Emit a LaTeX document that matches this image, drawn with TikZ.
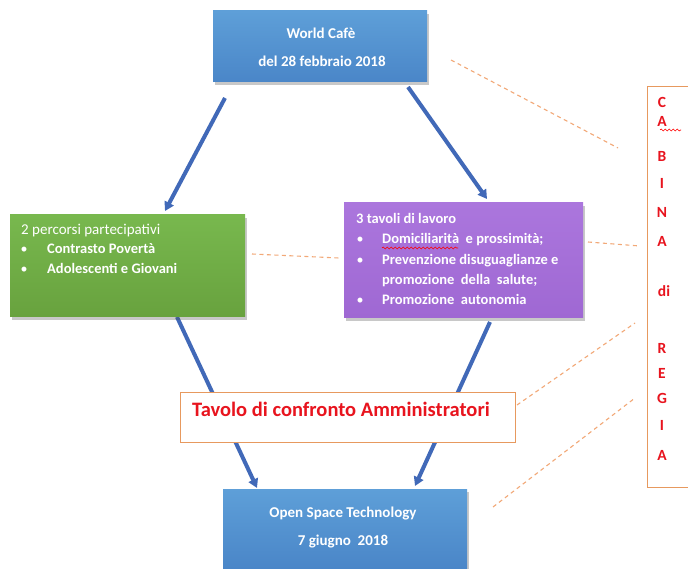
\documentclass[tikz,border=0pt]{standalone}
\usepackage{fontspec}
\setmainfont{Carlito}
\usetikzlibrary{arrows.meta,shadows,decorations.pathmorphing}
\definecolor{bluetop}{HTML}{5E9FD8}
\definecolor{bluebot}{HTML}{4A86C8}
\definecolor{greentop}{HTML}{78B84E}
\definecolor{greenbot}{HTML}{68A23E}
\definecolor{purptop}{HTML}{AB76DD}
\definecolor{purpbot}{HTML}{9F68D3}
\definecolor{arrowblue}{HTML}{4169B8}
\definecolor{dashor}{HTML}{F2A877}
\definecolor{boxor}{HTML}{E7995E}
\definecolor{redtxt}{HTML}{E8141E}
\begin{document}
\begin{tikzpicture}[x=1pt,y=-1pt,
  shbox/.style={draw=none, inner sep=0pt, drop shadow={shadow xshift=2pt, shadow yshift=-3pt, opacity=0.3, fill=black!70}},
  bluebox/.style={shbox, top color=bluetop, bottom color=bluebot},
  greenbox/.style={shbox, top color=greentop, bottom color=greenbot},
  purpbox/.style={shbox, top color=purptop, bottom color=purpbot},
  orbox/.style={draw=boxor, line width=0.8pt, fill=white, inner sep=0pt},
  ctext/.style={inner sep=0pt, anchor=base, text=white, font=\fontsize{15}{17}\selectfont\bfseries},
  ltext/.style={inner sep=0pt, anchor=base west, text=white, font=\fontsize{14.5}{17}\selectfont\bfseries},
  ttext/.style={inner sep=0pt, anchor=base west, text=white, font=\fontsize{15}{17}\selectfont},
  bul/.style={inner sep=0pt, anchor=base, text=white, font=\fontsize{14}{16}\selectfont},
  rtext/.style={inner sep=0pt, anchor=base, text=redtxt, font=\fontsize{15.5}{17}\selectfont\bfseries},
  bigarrow/.style={draw=arrowblue, line width=4pt, -{Triangle[length=9pt,width=10pt]}},
  dashline/.style={draw=dashor, line width=1.1pt, dash pattern=on 4pt off 3.5pt},
  spell/.style={draw=red, line width=0.6pt, decorate, decoration={snake, amplitude=1pt, segment length=4pt}}
]
\useasboundingbox (0,0) rectangle (688,569);
\fill[white] (0,0) rectangle (688,569);

% arrow endpoints
\coordinate (a1s) at (225,98);  \coordinate (a1e) at (165,211);
\coordinate (a2s) at (408,87);  \coordinate (a2e) at (487,199);
\coordinate (a3s) at (177,317); \coordinate (a3e) at (257,488);
\coordinate (a4s) at (490,322); \coordinate (a4e) at (415,486);

\draw[bigarrow] (a1s) -- (a1e);
\draw[bigarrow] (a2s) -- (a2e);
\draw[bigarrow] (a3s) -- (a3e);
\draw[bigarrow] (a4s) -- (a4e);

% boxes
\node[bluebox, minimum width=214pt, minimum height=71pt] (wc) at (320,46.5) {};
\node[greenbox, minimum width=235pt, minimum height=102pt] (gr) at (127.5,266) {};
\node[purpbox, minimum width=239pt, minimum height=115pt] (pu) at (463.5,260.5) {};
\node[bluebox, minimum width=244pt, minimum height=79pt] (os) at (345,528.5) {};
\node[orbox, minimum width=335pt, minimum height=50pt] (ta) at (347.5,417) {};
\node[orbox, minimum width=46pt, minimum height=401pt] (cb) at (670,287) {};

% dashed connectors
\coordinate (d1s) at (451,60);  \coordinate (d1e) at (618,148);
\coordinate (d2s) at (252,254); \coordinate (d2e) at (339,258);
\coordinate (d3s) at (588,242); \coordinate (d3e) at (640,246);
\coordinate (d4s) at (517,405); \coordinate (d4e) at (635,323);
\coordinate (d5s) at (493,507); \coordinate (d5e) at (635,398);
\draw[dashline] (d1s) -- (d1e);
\draw[dashline] (d2s) -- (d2e);
\draw[dashline] (d3s) -- (d3e);
\draw[dashline] (d4s) -- (d4e);
\draw[dashline] (d5s) -- (d5e);

% top box text
\node[ctext] (wc1) at (321,39) {World Cafè};
\node[ctext] (wc2) at (322,67) {del 28 febbraio 2018};

% bottom box text
\node[ctext] (os1) at (343,517) {Open Space Technology};
\node[ctext] (os2) at (343,545) {7 giugno\ \ 2018};

% green box text
\node[ttext] (g0) at (21,235) {2 percorsi partecipativi};
\node[bul] (gb1) at (24,254) {•};
\node[ltext] (g1) at (47,254) {Contrasto Povertà};
\node[bul] (gb2) at (24,274) {•};
\node[ltext] (g2) at (47,274) {Adolescenti\ e Giovani};

% purple box text
\node[ltext] (p0) at (356,224) {3 tavoli di lavoro};
\node[bul] (pb1) at (360,244) {•};
\node[ltext] (p1) at (382,244) {Domiciliarità\ \ e prossimità;};
\node[bul] (pb2) at (360,265) {•};
\node[ltext] (p2) at (382,265) {Prevenzione\ disuguaglianze\ e};
\node[ltext] (p3) at (382,285) {promozione\ \ della\ \ salute;};
\node[bul] (pb3) at (360,305) {•};
\node[ltext] (p4) at (382,305) {Promozione\ \ autonomia};
\coordinate (sp1s) at (382,248); \coordinate (sp1e) at (458,248);
\draw[spell] (sp1s) -- (sp1e);

% Tavolo text
\node[inner sep=0pt, anchor=base west, text=redtxt, font=\fontsize{20.5}{24}\selectfont\bfseries] (tat) at (192,416) {Tavolo di confronto Amministratori};

% Cabina di regia
\node[rtext] (c1) at (662,108) {C};
\node[rtext] (c2) at (662,127) {A};
\node[rtext] (c3) at (662,162) {B};
\node[rtext] (c4) at (662,189) {I};
\node[rtext] (c5) at (662,218) {N};
\node[rtext] (c6) at (662,247) {A};
\node[rtext] (c7) at (664,297) {di};
\node[rtext] (c8) at (662,353) {R};
\node[rtext] (c9) at (662,378) {E};
\node[rtext] (c10) at (662,403) {G};
\node[rtext] (c11) at (662,430) {I};
\node[rtext] (c12) at (662,460) {A};
\coordinate (sp2s) at (660,130); \coordinate (sp2e) at (681,130);
\draw[spell] (sp2s) -- (sp2e);
\end{tikzpicture}
\end{document}
